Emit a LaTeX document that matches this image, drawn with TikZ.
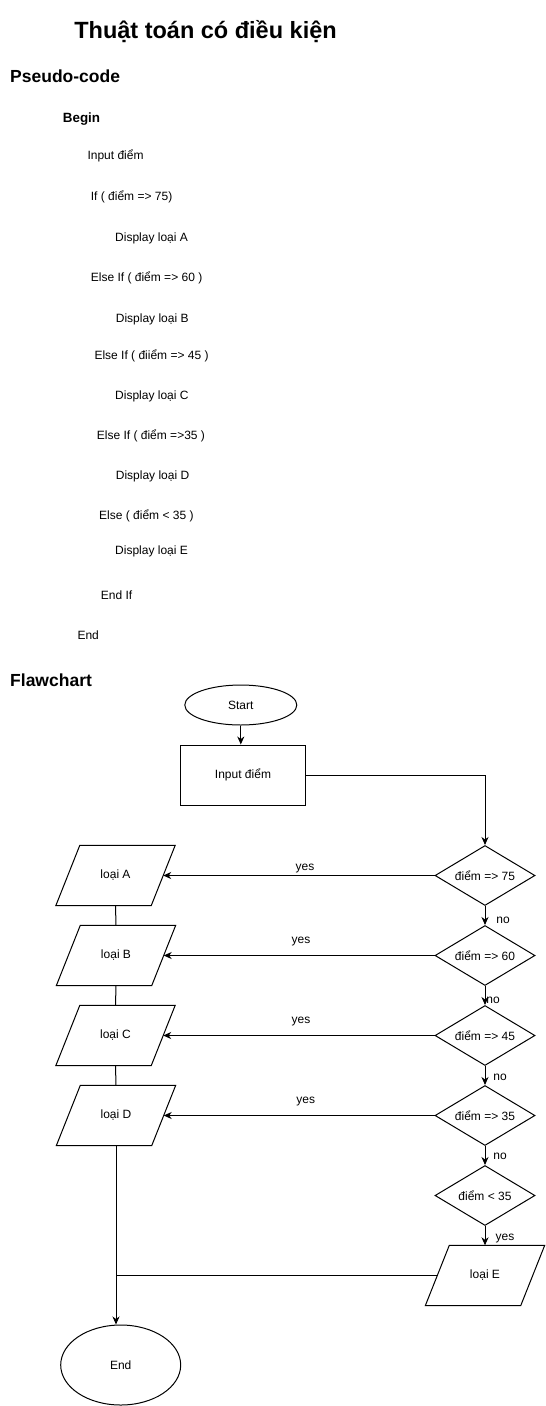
\documentclass[tikz,border=0pt]{standalone}
\usepackage{fontspec}
\setmainfont{Liberation Sans}
\usetikzlibrary{shapes.geometric,arrows.meta}
\newcommand\myparal[1]{\draw[line width=1pt] ([xshift=-12pt]#1.south west) -- ([xshift=12pt]#1.north west) -- ([xshift=12pt]#1.north east) -- ([xshift=-12pt]#1.south east) -- cycle;}
\begin{document}
\begin{tikzpicture}[x=1pt,y=-1pt,
 every node/.style={font=\fontsize{12}{14}\selectfont, inner sep=0pt},
 code/.style={anchor=west, text height=8.6pt, text depth=0pt},
 head/.style={anchor=west, font=\fontsize{17.5}{20}\selectfont\bfseries, text height=12.5pt, text depth=0pt},
 lab/.style={text height=8.6pt, text depth=0pt},
 term/.style={draw, ellipse, line width=1pt},
 proc/.style={draw, rectangle, minimum width=125pt, minimum height=60pt, line width=1pt},
 dec/.style={draw, diamond, minimum width=100pt, minimum height=60pt, aspect=1.667, line width=1pt},
 io/.style={rectangle, minimum width=95pt, minimum height=60pt},
 arr/.style={-{Stealth[length=8pt,width=7pt,inset=2.5pt]}, line width=1pt},
 ln/.style={line width=1pt}
]
\useasboundingbox (0,0) rectangle (546,1406);

% title and pseudo-code
\node[font=\fontsize{23.5}{28}\selectfont\bfseries, text height=16.8pt, text depth=0pt] (title) at (205.5,30.2) {Thuật toán có điều kiện};
\node[head] (pc) at (10,76) {Pseudo-code};
\node[code, font=\fontsize{13.4}{16}\selectfont\bfseries, text height=9.6pt] (p0) at (62.7,117.3) {Begin};
\node[code] (p1) at (87.3,155.3) {Input điểm};
\node[code] (p2) at (90.7,196) {If ( điểm => 75)};
\node[code] (p3) at (115,236.7) {Display loại A};
\node[code] (p4) at (90.7,276.7) {Else If ( điểm => 60 )};
\node[code] (p5) at (115.7,317.7) {Display loại B};
\node[code] (p6) at (94.3,355.5) {Else If ( điiểm => 45 )};
\node[code] (p7) at (115,395.5) {Display loại C};
\node[code] (p8) at (96.7,435.5) {Else If ( điểm =>35 )};
\node[code] (p9) at (115.7,475.5) {Display loại D};
\node[code] (p10) at (99,515.5) {Else ( điểm < 35 )};
\node[code] (p11) at (115,550) {Display loại E};
\node[code] (p12) at (100.7,595.5) {End If};
\node[code] (p13) at (77.3,635) {End};
\node[head] (fc) at (10,680) {Flawchart};

% flowchart nodes
\node[term, minimum width=112pt, minimum height=40pt] (start) at (240.8,705) {Start};
\node[proc] (inp) at (243,775) {Input điểm};
\node[dec] (d1) at (485,875.5) {điểm => 75};
\node[dec] (d2) at (485,955.5) {điểm => 60};
\node[dec] (d3) at (485,1035.5) {điểm => 45};
\node[dec] (d4) at (485,1115.5) {điểm => 35};
\node[dec] (d5) at (485,1195.5) {điểm < 35};
\node[io] (A) at (115.5,875.5) {loại A};
\node[io] (B) at (116,955.5) {loại B};
\node[io] (C) at (115.5,1035.5) {loại C};
\node[io] (D) at (116,1115.5) {loại D};
\node[io] (E) at (485,1275.5) {loại E};
\myparal{A}\myparal{B}\myparal{C}\myparal{D}\myparal{E}
\node[term, minimum width=120pt, minimum height=80pt] (end) at (120.7,1365) {End};

% connectors
\draw[arr] (start.south) -- (start.south |- inp.north);
\draw[arr] (inp.east) -| (d1.north);
\draw[arr] (d1.west) -- (A.east);
\draw[arr] (d2.west) -- (B.east);
\draw[arr] (d3.west) -- (C.east);
\draw[arr] (d4.west) -- (D.east);
\draw[arr] (d1.south) -- (d2.north);
\draw[arr] (d2.south) -- (d3.north);
\draw[arr] (d3.south) -- (d4.north);
\draw[arr] (d4.south) -- (d5.north);
\draw[arr] (d5.south) -- (E.north);
\draw[ln] (A.south) -- (B.north);
\draw[ln] (B.south) -- (C.north);
\draw[ln] (C.south) -- (D.north);
\coordinate (j) at (D.center |- E.west);
\draw[ln] (E.west) -- (j);
\draw[arr] (D.south) -- (D.center |- end.north);

% labels
\node[lab] (y1) at (305,865.7) {yes};
\node[lab] (y2) at (301,939) {yes};
\node[lab] (y3) at (301,1019) {yes};
\node[lab] (y4) at (305.7,1099) {yes};
\node[lab] (y5) at (505,1235.7) {yes};
\node[lab] (n1) at (503,919) {no};
\node[lab] (n2) at (493,999) {no};
\node[lab] (n3) at (500,1075.7) {no};
\node[lab] (n4) at (500,1155) {no};
\end{tikzpicture}
\end{document}
